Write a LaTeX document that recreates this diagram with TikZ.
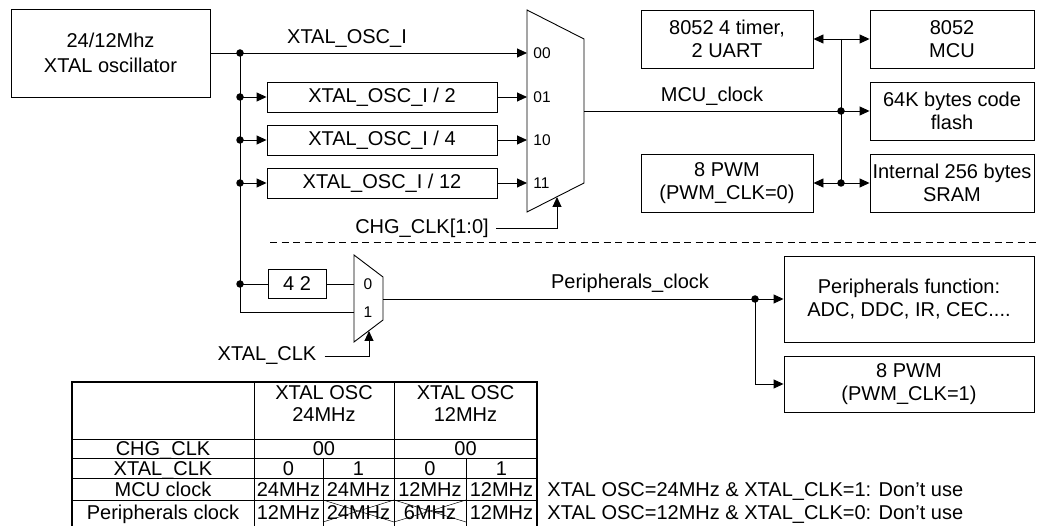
\documentclass[tikz,border=0pt]{standalone}
\usepackage{fontspec}
\setmainfont{Liberation Sans}
\usetikzlibrary{arrows.meta}
\begin{document}
\begin{tikzpicture}[x=1pt,y=-1pt,line width=0.9pt,
    >={Triangle[length=10pt,width=9pt]},
    every node/.style={font=\fontsize{20}{23}\selectfont,inner sep=0pt},
    box/.style={draw,align=center},
    sel/.style={font=\fontsize{15.5}{17}\selectfont},
    dot/.style={circle,fill,minimum size=7.5pt},
    cell/.style={anchor=base},
    grid/.style={line width=0.8pt},
    cross/.style={line width=0.5pt}]
    \clip (0,0) rectangle (1037,526);
    \node[box,minimum width=199pt,minimum height=88pt,font=\fontsize{20}{25}\selectfont] (osc) at (110.5,53) {24/12Mhz\\XTAL oscillator};
    \node (oscI) at (347,39) {XTAL\_OSC\_I};
    \node[box,minimum width=230pt,minimum height=30pt] (div2) at (382,97) {XTAL\_OSC\_I / 2};
    \node[box,minimum width=230pt,minimum height=30pt] (div4) at (382,140) {XTAL\_OSC\_I / 4};
    \node[box,minimum width=230pt,minimum height=30pt] (div12) at (382,183) {XTAL\_OSC\_I / 12};
    \node[dot] (d0) at (240,53) {};
    \node[dot] (d1) at (240,97) {};
    \node[dot] (d2) at (240,140) {};
    \node[dot] (d3) at (240,183) {};
    \node[dot] (d4) at (240,284) {};
    \coordinate (b5) at (240,312);
    \coordinate (m00) at (527,53);
    \coordinate (m01) at (527,97);
    \coordinate (m10) at (527,140);
    \coordinate (m11) at (527,183);
    \draw (527,10) -- (584,39) -- (584,183) -- (527,212) -- cycle;
    \node[sel,anchor=west] (s00) at (533,53) {00};
    \node[sel,anchor=west] (s01) at (533,97) {01};
    \node[sel,anchor=west] (s10) at (533,140) {10};
    \node[sel,anchor=west] (s11) at (533,183) {11};
    \draw[->] (osc.east |- m00) -- (m00);
    \draw (d0.center) -- (b5);
    \draw[->] (d1.center) -- (div2);
    \draw[->] (d2.center) -- (div4);
    \draw[->] (d3.center) -- (div12);
    \draw[->] (div2) -- (m01);
    \draw[->] (div4) -- (m10);
    \draw[->] (div12) -- (m11);
    \node (chg) at (422,228) {CHG\_CLK[1:0]};
    \coordinate (csel) at (557,197);
    \draw[->] ([xshift=7pt]chg.east) -| (csel);
    \node[box,minimum width=172pt,minimum height=58pt] (timer) at (727,39) {8052 4 timer,\\2 UART};
    \node[box,minimum width=172pt,minimum height=58pt] (pwm0) at (727,183) {8 PWM\\(PWM\_CLK=0)};
    \node[box,minimum width=164pt,minimum height=58pt] (mcu) at (952,39) {8052\\MCU};
    \node[box,minimum width=164pt,minimum height=58pt] (flash) at (952,111) {64K bytes code\\flash};
    \node[box,minimum width=164pt,minimum height=58pt] (sram) at (952,183) {Internal 256 bytes\\SRAM};
    \node (mcuclk) at (712,96) {MCU\_clock};
    \coordinate (mout) at (584,111);
    \coordinate (jt) at (841,39);
    \node[dot] (j1) at (841,111) {};
    \node[dot] (j2) at (841,183) {};
    \draw (mout) -- (j1.center);
    \draw[->] (j1.center) -- (flash);
    \draw (jt) -- (j2.center);
    \draw[->] (jt) -- (timer);
    \draw[->] (jt) -- (mcu);
    \draw[->] (j2.center) -- (pwm0);
    \draw[->] (j2.center) -- (sram);
    \draw[dash pattern=on 7pt off 4.5pt] (270,242) -- (1037,242);
    \node[box,minimum width=58pt,minimum height=29pt] (half) at (297,284) {4 2};
    \coordinate (p0) at (354,284);
    \coordinate (p1) at (354,312);
    \draw (d4.center) -- (half);
    \draw (half) -- (p0);
    \draw (b5) -- (p1);
    \draw (354,255) -- (383,277) -- (383,320) -- (354,342) -- cycle;
    \node[sel] (l0) at (368,284) {0};
    \node[sel] (l1) at (368,312) {1};
    \node (xclk) at (267,356) {XTAL\_CLK};
    \coordinate (xsel) at (369,331);
    \draw[->] ([xshift=8pt]xclk.east) -| (xsel);
    \node (perclk) at (630,283) {Peripherals\_clock};
    \node[box,minimum width=250pt,minimum height=86pt] (perfn) at (909,299) {Peripherals function:\\ADC, DDC, IR, CEC....};
    \node[box,minimum width=250pt,minimum height=56pt] (pwm1) at (909,384) {8 PWM\\(PWM\_CLK=1)};
    \coordinate (mout2) at (383,299);
    \node[dot] (j3) at (755,299) {};
    \draw (mout2) -- (j3.center);
    \draw[->] (j3.center) -- (perfn);
    \draw[->] (j3.center) |- (pwm1);
    \draw[line width=1.3pt] (72,382) rectangle (537,540);
    \foreach \y in {439,458,478,500}
        \draw[grid] (72,\y) -- (537,\y);
    \draw[grid] (254,382) -- (254,540);
    \draw[grid] (394,382) -- (394,540);
    \draw[grid] (323,458) -- (323,540);
    \draw[grid] (466,458) -- (466,540);
    \draw[cross] (323,500) -- (394,522);
    \draw[cross] (394,500) -- (323,522);
    \draw[cross] (394,500) -- (466,522);
    \draw[cross] (466,500) -- (394,522);
    \node[align=center,font=\fontsize{20}{22}\selectfont] (h24) at (324,404) {XTAL OSC\\24MHz};
    \node[align=center,font=\fontsize{20}{22}\selectfont] (h12) at (465.5,404) {XTAL OSC\\12MHz};
    \node[cell] (rchg) at (163,455.5) {CHG\_CLK};
    \node[cell] (chg24) at (324,455.5) {00};
    \node[cell] (chg12) at (465.5,455.5) {00};
    \node[cell] (rxtal) at (163,475.5) {XTAL\_CLK};
    \node[cell] (x240) at (288.5,475.5) {0};
    \node[cell] (x241) at (358.5,475.5) {1};
    \node[cell] (x120) at (430,475.5) {0};
    \node[cell] (x121) at (501.5,475.5) {1};
    \node[cell] (rmcu) at (163,497) {MCU clock};
    \node[cell] (mc1) at (288.5,497) {24MHz};
    \node[cell] (mc2) at (358.5,497) {24MHz};
    \node[cell] (mc3) at (430,497) {12MHz};
    \node[cell] (mc4) at (501.5,497) {12MHz};
    \node[cell] (rper) at (163,520) {Peripherals clock};
    \node[cell] (pc1) at (288.5,520) {12MHz};
    \node[cell] (pc2) at (358.5,520) {24MHz};
    \node[cell] (pc3) at (430,520) {6MHz};
    \node[cell] (pc4) at (501.5,520) {12MHz};
    \node[cell,anchor=base west] (note1) at (547,497) {XTAL OSC=24MHz \& XTAL\_CLK=1: Don't use};
    \node[cell,anchor=base west] (note2) at (547,520) {XTAL OSC=12MHz \& XTAL\_CLK=0: Don't use};
\end{tikzpicture}
\end{document}
